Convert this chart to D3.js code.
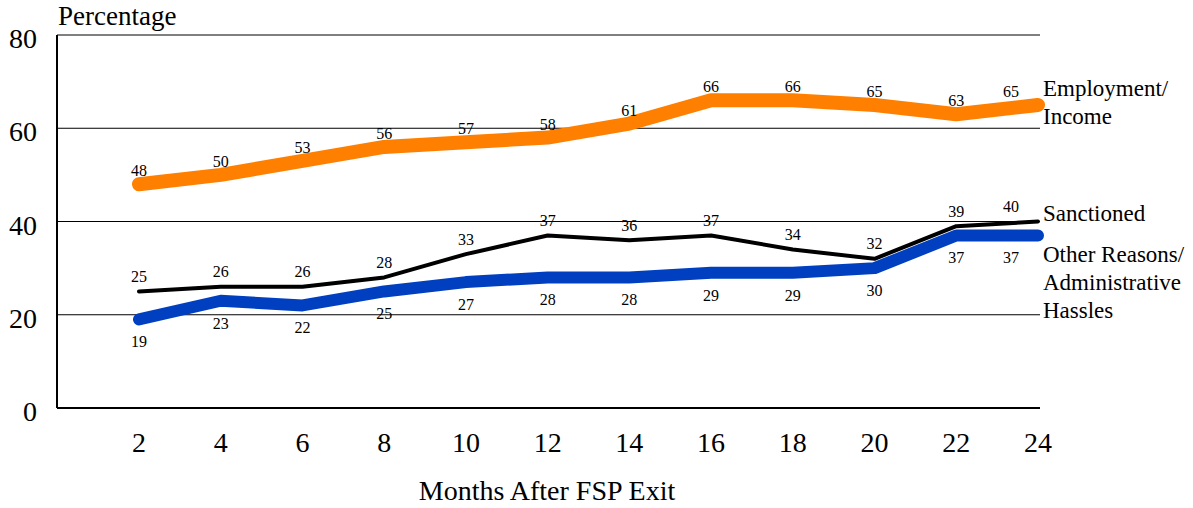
<!DOCTYPE html>
<html>
<head>
<meta charset="utf-8">
<script src="https://cdn.jsdelivr.net/npm/d3@7/dist/d3.min.js"></script>
<style>
  body { margin: 0; background: #fff; }
</style>
</head>
<body>
<div id="chart"></div>
<script>
const months = [2, 4, 6, 8, 10, 12, 14, 16, 18, 20, 22, 24]
const employment = [48, 50, 53, 56, 57, 58, 61, 66, 66, 65, 63, 65]
const sanctioned = [25, 26, 26, 28, 33, 37, 36, 37, 34, 32, 39, 40]
const otherReasons = [19, 23, 22, 25, 27, 28, 28, 29, 29, 30, 37, 37]
const yTicks = [0, 20, 40, 60, 80]

const width = 1193, height = 508
const plot = { left: 57, right: 1040, top: 35, bottom: 408 }
const serif = '"Liberation Serif", "DejaVu Serif", "Times New Roman", serif'

const svg = d3.select('#chart')
  .append('svg')
  .attr('width', width)
  .attr('height', height)
  .attr('font-family', serif)
  .style('font-family', serif)

const x = d3.scaleLinear().domain([2, 24]).range([139, 1038])
const y = d3.scaleLinear().domain([0, 80]).range([plot.bottom, plot.top])

// gridlines
svg.selectAll('line.grid')
  .data(yTicks.filter(d => d > 0))
  .enter()
    .append('line')
    .attr('class', 'grid')
    .attr('x1', plot.left).attr('x2', plot.right)
    .attr('y1', d => y(d)).attr('y2', d => y(d))
    .attr('stroke', '#000')
    .attr('stroke-width', 1)

// axes
svg.append('line')
  .attr('x1', plot.left).attr('x2', plot.left)
  .attr('y1', plot.top).attr('y2', plot.bottom)
  .attr('stroke', '#000').attr('stroke-width', 2)
svg.append('line')
  .attr('x1', plot.left).attr('x2', plot.right)
  .attr('y1', plot.bottom).attr('y2', plot.bottom)
  .attr('stroke', '#000').attr('stroke-width', 2)

svg.selectAll('text.ytick')
  .data(yTicks)
  .enter()
    .append('text')
    .attr('class', 'ytick')
    .attr('x', 37)
    .attr('y', d => y(d) + 13)
    .attr('text-anchor', 'end')
    .style('font-size', '28px')
    .text(d => d)

svg.selectAll('text.xtick')
  .data(months)
  .enter()
    .append('text')
    .attr('class', 'xtick')
    .attr('x', d => x(d))
    .attr('y', 452)
    .attr('text-anchor', 'middle')
    .style('font-size', '28px')
    .text(d => d)

svg.append('text')
  .attr('x', 58).attr('y', 25)
  .style('font-size', '27px')
  .text('Percentage')

svg.append('text')
  .attr('x', 547).attr('y', 500)
  .attr('text-anchor', 'middle')
  .style('font-size', '28px')
  .text('Months After FSP Exit')

const series = [
  { values: employment, color: '#ff7f00', width: 14, dy: -8, label: ['Employment/', 'Income'], ly: 96 },
  { values: sanctioned, color: '#000000', width: 4, dy: -9.5, label: ['Sanctioned'], ly: 221 },
  { values: otherReasons, color: '#0040c0', width: 12, dy: 28, label: ['Other Reasons/', 'Administrative', 'Hassles'], ly: 262 },
]

const line = d3.line()
  .x((d, i) => x(months[i]))
  .y(d => y(d))

series.forEach(s => {
  svg.append('path')
    .attr('d', line(s.values))
    .attr('fill', 'none')
    .attr('stroke', s.color)
    .attr('stroke-width', s.width)
    .attr('stroke-linecap', 'round')
    .attr('stroke-linejoin', 'round')

  // last label nudged left so it clears the series name
  svg.append('g')
    .selectAll('text')
    .data(s.values)
    .enter()
      .append('text')
      .attr('x', (d, i) => x(months[i]) - (i === months.length - 1 ? 27 : 0))
      .attr('y', d => y(d) + s.dy)
      .attr('text-anchor', 'middle')
      .style('font-size', '16px')
      .text(d => d)

  const t = svg.append('text')
    .attr('x', 1043)
    .attr('y', s.ly)
    .style('font-size', '23px')
  s.label.forEach((l, i) => {
    t.append('tspan')
      .attr('x', 1043)
      .attr('dy', i === 0 ? 0 : 28)
      .text(l)
  })
})
</script>
</body>
</html>
